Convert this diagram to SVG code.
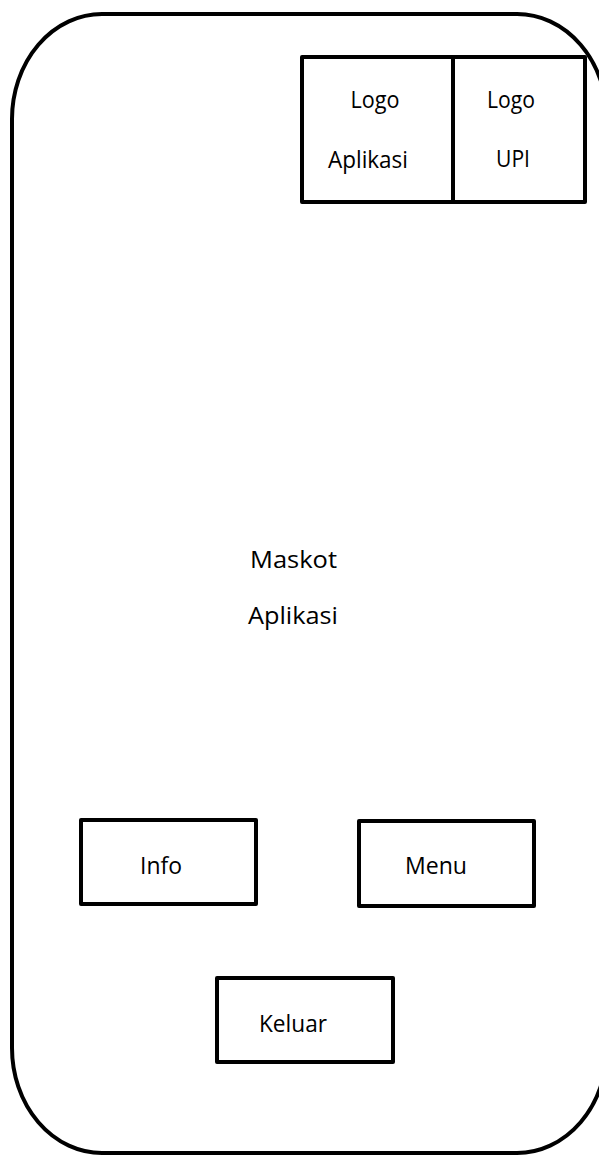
<svg xmlns="http://www.w3.org/2000/svg" width="599" height="1157" viewBox="0 0 599 1157">
<style>
.box{fill:none;stroke:#000;stroke-width:4;stroke-linejoin:round}
.t{font-family:"Open Sans","Noto Sans",sans-serif;font-size:23px;fill:#000;text-anchor:middle}
</style>
<rect width="599" height="1157" fill="#fff"/>
<g id="frame"><rect class="box" x="12" y="14" width="595" height="1139" rx="90" ry="105"/></g>
<g id="logo-aplikasi"><rect class="box" x="302" y="57" width="151" height="145"/>
<text class="t" x="375" y="108" textLength="49" lengthAdjust="spacingAndGlyphs">Logo</text>
<text class="t" x="368" y="168" textLength="80" lengthAdjust="spacingAndGlyphs">Aplikasi</text></g>
<g id="logo-upi"><rect class="box" x="453" y="57" width="132" height="145"/>
<text class="t" x="511" y="108" textLength="48" lengthAdjust="spacingAndGlyphs">Logo</text>
<text class="t" x="513" y="167" textLength="34" lengthAdjust="spacingAndGlyphs">UPI</text></g>
<g id="maskot">
<text class="t" x="293.5" y="568" textLength="87" lengthAdjust="spacingAndGlyphs">Maskot</text>
<text class="t" x="293" y="624" textLength="90" lengthAdjust="spacingAndGlyphs">Aplikasi</text></g>
<g id="info"><rect class="box" x="81" y="820" width="175" height="84"/>
<text class="t" x="161" y="874" textLength="42" lengthAdjust="spacingAndGlyphs">Info</text></g>
<g id="menu"><rect class="box" x="359" y="821" width="175" height="85"/>
<text class="t" x="436" y="874" textLength="62" lengthAdjust="spacingAndGlyphs">Menu</text></g>
<g id="keluar"><rect class="box" x="217" y="978" width="176" height="84"/>
<text class="t" x="293" y="1032" textLength="68" lengthAdjust="spacingAndGlyphs">Keluar</text></g>
<g id="connectors"/>
</svg>
